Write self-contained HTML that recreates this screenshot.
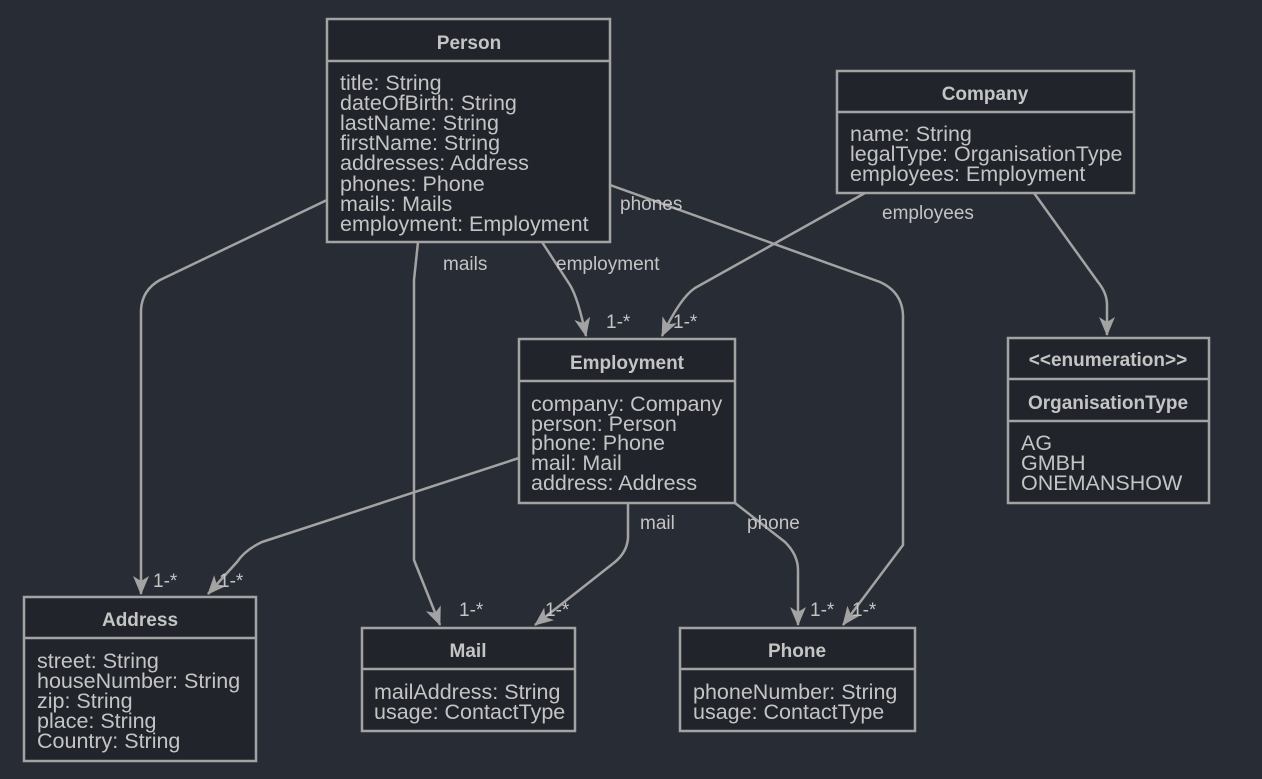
<!DOCTYPE html>
<html><head><meta charset="utf-8"><style>
html,body{margin:0;padding:0;background:#282c34;}
svg{display:block;}
text{font-family:"Liberation Sans",sans-serif;fill:#c4c4c4;}
.a{font-size:21.5px;}
.t{font-size:19px;font-weight:bold;text-anchor:middle;}
.l{font-size:19px;}
.b{fill:#21252b;stroke:#a3a3a3;stroke-width:2.5;}
.d{stroke:#a3a3a3;stroke-width:2.5;}
.e{fill:none;stroke:#a3a3a3;stroke-width:2.5;stroke-linejoin:round;}
</style></head><body>
<svg width="1262" height="779" viewBox="0 0 1262 779">
<defs>
<marker id="ar" viewBox="-8 -2 20 16" refX="11" refY="6" markerWidth="20" markerHeight="16" markerUnits="userSpaceOnUse" orient="auto" overflow="visible">
<path d="M-7,-2 L12,6 L-7,14 L-2,6 z" fill="#a3a3a3"/>
</marker>
</defs>
<rect width="1262" height="779" fill="#282c34"/>

<path class="e" marker-end="url(#ar)" d="M327,200 L160,280 Q142,290 141,310 L141,594"/>
<path class="e" marker-end="url(#ar)" d="M418,242 L414,280 L414,560 L440,625"/>
<path class="e" marker-end="url(#ar)" d="M542,242 L570,285 Q578,298 586,336"/>
<path class="e" marker-end="url(#ar)" d="M610,185 L880,282 Q902,292 903,315 L903,545 L843,625"/>
<path class="e" marker-end="url(#ar)" d="M865,193 L695,288 Q680,298 662,336"/>
<path class="e" marker-end="url(#ar)" d="M1034,193 L1098,282 Q1107,293 1107,305 L1107,335"/>
<path class="e" marker-end="url(#ar)" d="M519,458 L262,542 Q245,550 237,562 L208,594"/>
<path class="e" marker-end="url(#ar)" d="M628,503 L628,538 Q627,552 615,562 L535,625"/>
<path class="e" marker-end="url(#ar)" d="M735,503 L785,542 Q798,555 798,570 L798,625"/>

<text class="l" x="620" y="210">phones</text>
<text class="l" x="882" y="219">employees</text>
<text class="l" x="443" y="270">mails</text>
<text class="l" x="556" y="270">employment</text>
<text class="l" x="606" y="328">1-*</text>
<text class="l" x="673" y="328">1-*</text>
<text class="l" x="640" y="529">mail</text>
<text class="l" x="747" y="529">phone</text>
<text class="l" x="153" y="587">1-*</text>
<text class="l" x="219" y="587">1-*</text>
<text class="l" x="459" y="616">1-*</text>
<text class="l" x="545" y="616">1-*</text>
<text class="l" x="810" y="616">1-*</text>
<text class="l" x="852" y="616">1-*</text>

<rect class="b" x="327" y="19" width="283" height="223"/>
<line class="d" x1="327" y1="61" x2="610" y2="61"/>
<text class="t" x="469" y="49">Person</text>
<text class="a" x="340" y="90">title: String</text>
<text class="a" x="340" y="110">dateOfBirth: String</text>
<text class="a" x="340" y="130">lastName: String</text>
<text class="a" x="340" y="150">firstName: String</text>
<text class="a" x="340" y="170">addresses: Address</text>
<text class="a" x="340" y="191">phones: Phone</text>
<text class="a" x="340" y="211">mails: Mails</text>
<text class="a" x="340" y="231">employment: Employment</text>

<rect class="b" x="837" y="71" width="297" height="122"/>
<line class="d" x1="837" y1="112" x2="1134" y2="112"/>
<text class="t" x="985" y="100">Company</text>
<text class="a" x="850" y="141">name: String</text>
<text class="a" x="850" y="161">legalType: OrganisationType</text>
<text class="a" x="850" y="181">employees: Employment</text>

<rect class="b" x="519" y="339" width="216" height="164"/>
<line class="d" x1="519" y1="381" x2="735" y2="381"/>
<text class="t" x="627" y="369">Employment</text>
<text class="a" x="531" y="411">company: Company</text>
<text class="a" x="531" y="431">person: Person</text>
<text class="a" x="531" y="450">phone: Phone</text>
<text class="a" x="531" y="470">mail: Mail</text>
<text class="a" x="531" y="490">address: Address</text>

<rect class="b" x="1008" y="338" width="201" height="165"/>
<line class="d" x1="1008" y1="379" x2="1209" y2="379"/>
<line class="d" x1="1008" y1="421" x2="1209" y2="421"/>
<text class="t" x="1108" y="366">&lt;&lt;enumeration&gt;&gt;</text>
<text class="t" x="1108" y="409">OrganisationType</text>
<text class="a" x="1021" y="450">AG</text>
<text class="a" x="1021" y="470">GMBH</text>
<text class="a" x="1021" y="490">ONEMANSHOW</text>

<rect class="b" x="24" y="597" width="232" height="164"/>
<line class="d" x1="24" y1="638" x2="256" y2="638"/>
<text class="t" x="140" y="626">Address</text>
<text class="a" x="37" y="668">street: String</text>
<text class="a" x="37" y="688">houseNumber: String</text>
<text class="a" x="37" y="708">zip: String</text>
<text class="a" x="37" y="728">place: String</text>
<text class="a" x="37" y="748">Country: String</text>

<rect class="b" x="362" y="628" width="213" height="103"/>
<line class="d" x1="362" y1="669" x2="575" y2="669"/>
<text class="t" x="468" y="657">Mail</text>
<text class="a" x="374" y="699">mailAddress: String</text>
<text class="a" x="374" y="719">usage: ContactType</text>

<rect class="b" x="680" y="628" width="235" height="103"/>
<line class="d" x1="680" y1="669" x2="915" y2="669"/>
<text class="t" x="797" y="657">Phone</text>
<text class="a" x="693" y="699">phoneNumber: String</text>
<text class="a" x="693" y="719">usage: ContactType</text>
</svg>
</body></html>
